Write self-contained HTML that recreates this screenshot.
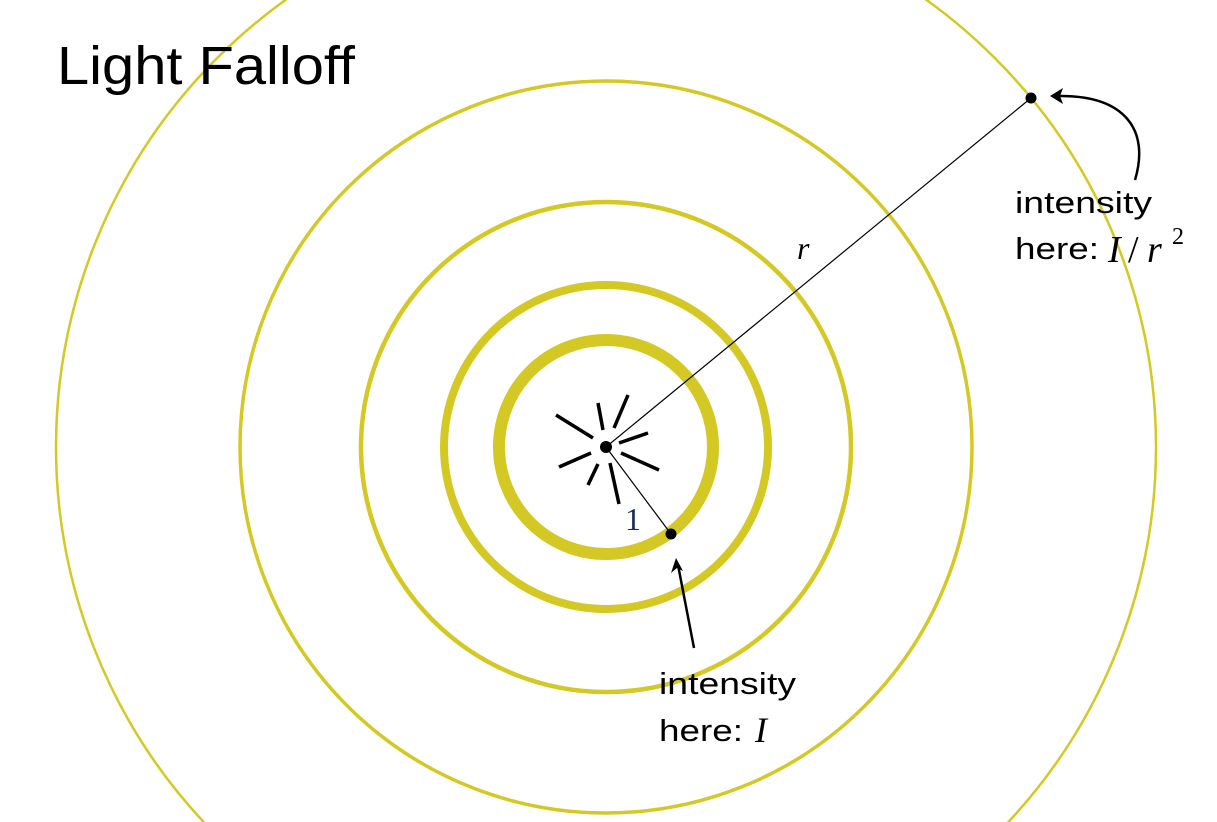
<!DOCTYPE html>
<html><head><meta charset="utf-8"><style>
html,body{margin:0;padding:0;background:#fff;width:1217px;height:822px;overflow:hidden}
svg{display:block;overflow:hidden}
.t{font-family:"Liberation Sans",sans-serif;fill:#000}
.m{font-family:"Liberation Serif",serif;font-style:italic;fill:#000}
</style></head><body>
<svg width="1217" height="822" viewBox="0 0 1217 822">
<g fill="none" stroke="#d4c825">
<circle cx="606" cy="447" r="550" stroke-width="2.5"/>
<circle cx="606" cy="447" r="366" stroke-width="3.5"/>
<circle cx="606" cy="447" r="245" stroke-width="4.5"/>
<circle cx="606" cy="447" r="162" stroke-width="8"/>
<circle cx="606" cy="447" r="107" stroke-width="12"/>
</g>
<g stroke="#000" stroke-width="3.5" stroke-linecap="butt">
<line x1="556" y1="415" x2="593" y2="438"/>
<line x1="598" y1="403" x2="603" y2="430"/>
<line x1="628" y1="395" x2="614" y2="428"/>
<line x1="648" y1="433" x2="619" y2="443"/>
<line x1="659" y1="470" x2="621" y2="453"/>
<line x1="610" y1="463" x2="619" y2="504"/>
<line x1="598" y1="464" x2="588" y2="485"/>
<line x1="591" y1="453" x2="559" y2="467"/>
</g>
<g stroke="#000" stroke-width="1.2">
<line x1="606" y1="447" x2="1031" y2="98"/>
<line x1="606" y1="447" x2="671" y2="534"/>
</g>
<circle cx="606" cy="447" r="6" fill="#000"/>
<circle cx="671" cy="534" r="5.5" fill="#000"/>
<circle cx="1031" cy="98" r="5.5" fill="#000"/>
<g stroke="#000" stroke-width="2.5" fill="none">
<path d="M1135,180 C1150,130 1125,95 1058,96"/>
<line x1="694" y1="648" x2="678" y2="565"/>
</g>
<polygon points="1050,96 1063,88 1060,96 1063,104" fill="#000"/>
<polygon points="676,558 683,571 677,568 671,573" fill="#000"/>
<text class="t" x="57" y="84" font-size="54" textLength="298" lengthAdjust="spacingAndGlyphs">Light Falloff</text>
<text class="t" x="1015" y="213" font-size="31" textLength="137" lengthAdjust="spacingAndGlyphs">intensity</text>
<text class="t" x="1015" y="259" font-size="31" textLength="84" lengthAdjust="spacingAndGlyphs">here:</text>
<text class="m" x="1108" y="262" font-size="38">I</text>
<text class="m" x="1128" y="262" font-size="38" style="font-style:normal">/</text>
<text class="m" x="1147" y="262" font-size="38">r</text>
<text class="m" x="1172" y="244" font-size="24" style="font-style:normal">2</text>
<text class="t" x="659" y="694" font-size="31" textLength="137" lengthAdjust="spacingAndGlyphs">intensity</text>
<text class="t" x="659" y="741" font-size="31" textLength="84" lengthAdjust="spacingAndGlyphs">here:</text>
<text class="m" x="755" y="742" font-size="36">I</text>
<text class="m" x="797" y="259" font-size="32">r</text>
<text class="m" x="625" y="530" font-size="32" style="font-style:normal;fill:#1a2a5a">1</text>
</svg>
</body></html>
